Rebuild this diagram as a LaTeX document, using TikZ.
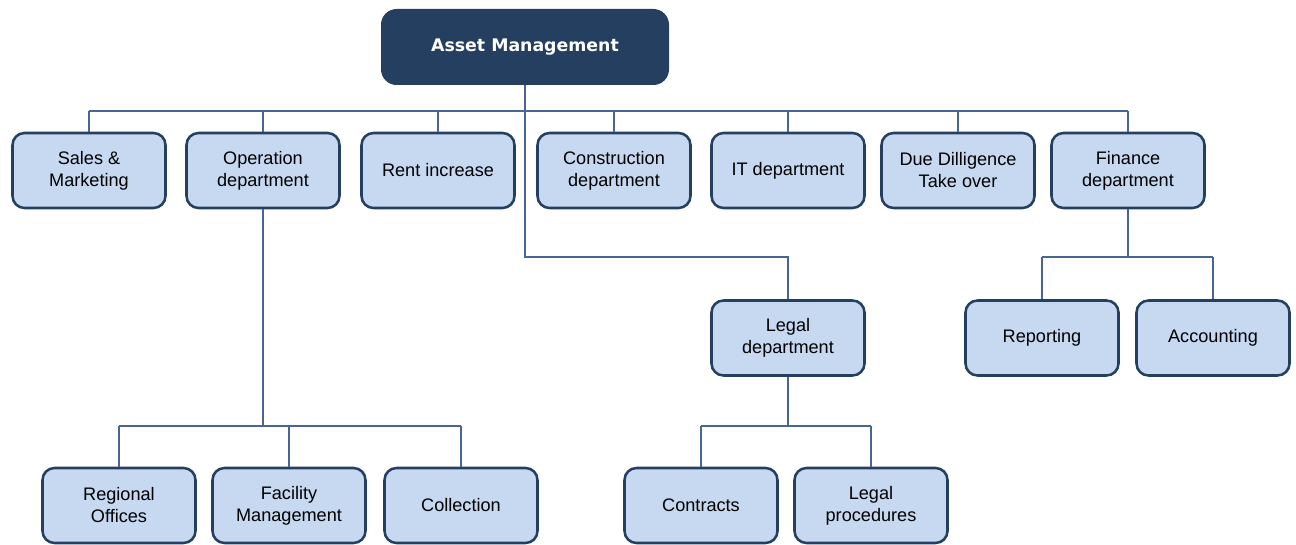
\documentclass[tikz,border=0pt]{standalone}
\usepackage{fontspec}
\setmainfont{Liberation Sans}
\newfontfamily\headfont{DejaVu Sans}
\definecolor{navy}{HTML}{243F60}
\definecolor{boxfill}{HTML}{C6D9F1}
\definecolor{linkblue}{RGB}{72,101,150}
\tikzset{
  unit/.style={draw=navy, fill=boxfill, line width=1.9pt, rounded corners=9pt,
    minimum width=114.75pt, minimum height=56.25pt, inner sep=0pt, align=center,
    font=\fontsize{13.6}{16.5}\selectfont},
  head/.style={draw=navy, fill=navy, line width=1.5pt, rounded corners=11pt,
    minimum width=214.5pt, minimum height=55.5pt, inner sep=0pt, text=white,
    font=\headfont\bfseries\fontsize{13}{15}\selectfont},
  link/.style={draw=linkblue, line width=0.8pt}
}
\begin{document}
\begin{tikzpicture}[x=0.75pt, y=-0.75pt]
    \useasboundingbox (0,0) rectangle (1296,545);
    \node[head] (am) at (525,47) {Asset Management};
    \node[unit] (sales) at (89,170.5) {Sales \&\\Marketing};
    \node[unit] (oper) at (263,170.5) {Operation\\department};
    \node[unit] (rent) at (438,170.5) {Rent increase};
    \node[unit] (cons) at (614,170.5) {Construction\\department};
    \node[unit] (it) at (788,170.5) {IT department};
    \node[unit] (dued) at (958,170.5) {Due Dilligence\\Take over};
    \node[unit] (fin) at (1128,170.5) {Finance\\department};
    \node[unit] (legal) at (788,338) {Legal\\department};
    \node[unit] (rep) at (1042,338) {Reporting};
    \node[unit] (acc) at (1213,338) {Accounting};
    \node[unit] (reg) at (119,505.5) {Regional\\Offices};
    \node[unit] (fac) at (289,505.5) {Facility\\Management};
    \node[unit] (coll) at (461,505.5) {Collection};
    \node[unit] (contr) at (701,505.5) {Contracts};
    \node[unit] (lproc) at (871,505.5) {Legal\\procedures};
    \coordinate (bus1) at (0,111);
    \coordinate (bus2) at (0,257);
    \coordinate (bus3) at (0,426);
    \draw[link] (am.south) |- (legal.north |- bus2) -- (legal.north);
    \draw[link] (sales.north |- bus1) -- (fin.north |- bus1);
    \draw[link] (sales.north) -- (sales.north |- bus1);
    \draw[link] (oper.north) -- (oper.north |- bus1);
    \draw[link] (rent.north) -- (rent.north |- bus1);
    \draw[link] (cons.north) -- (cons.north |- bus1);
    \draw[link] (it.north) -- (it.north |- bus1);
    \draw[link] (dued.north) -- (dued.north |- bus1);
    \draw[link] (fin.north) -- (fin.north |- bus1);
    \draw[link] (fin.south) -- (fin.south |- bus2);
    \draw[link] (rep.north |- bus2) -- (acc.north |- bus2);
    \draw[link] (rep.north) -- (rep.north |- bus2);
    \draw[link] (acc.north) -- (acc.north |- bus2);
    \draw[link] (oper.south) -- (oper.south |- bus3);
    \draw[link] (reg.north |- bus3) -- (coll.north |- bus3);
    \draw[link] (reg.north) -- (reg.north |- bus3);
    \draw[link] (fac.north) -- (fac.north |- bus3);
    \draw[link] (coll.north) -- (coll.north |- bus3);
    \draw[link] (legal.south) -- (legal.south |- bus3);
    \draw[link] (contr.north |- bus3) -- (lproc.north |- bus3);
    \draw[link] (contr.north) -- (contr.north |- bus3);
    \draw[link] (lproc.north) -- (lproc.north |- bus3);
\end{tikzpicture}
\end{document}
